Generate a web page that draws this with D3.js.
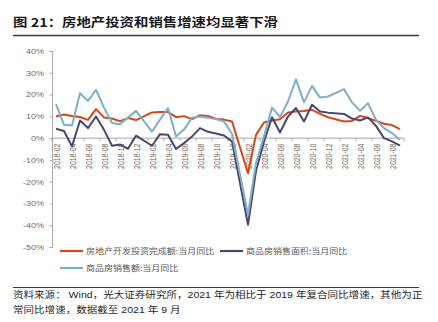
<!DOCTYPE html>
<html><head><meta charset="utf-8">
<script src="https://cdn.jsdelivr.net/npm/d3@7/dist/d3.min.js"></script>
<style>body{margin:0;background:#fff}svg{display:block}</style>
</head><body>
<svg id="c" width="438" height="322"></svg>
<script>
// ---------- data ----------
const months = [
  "2018-02","2018-03","2018-04","2018-05","2018-06","2018-07","2018-08","2018-09","2018-10","2018-11","2018-12",
  "2019-01","2019-02","2019-03","2019-04","2019-05","2019-06","2019-07","2019-08","2019-09","2019-10","2019-11","2019-12",
  "2020-01","2020-02","2020-03","2020-04","2020-05","2020-06","2020-07","2020-08","2020-09","2020-10","2020-11","2020-12",
  "2021-01","2021-02","2021-03","2021-04","2021-05","2021-06","2021-07","2021-08","2021-09"
];
// 房地产开发投资完成额:当月同比 (%)
const investment = [
  9.9,10.8,10.2,9.7,8.4,13.3,9.5,9.0,7.8,9.2,8.3,
  null,11.8,12.0,12.0,9.6,10.1,8.7,10.5,10.2,8.8,8.5,7.6,
  null,-16.1,1.5,7.2,8.1,8.7,11.8,12.2,12.4,13.0,11.1,9.6,
  null,7.6,7.9,10.2,9.2,7.9,6.6,6.0,4.1
];
// 商品房销售面积:当月同比 (%)
const salesArea = [
  4.3,3.3,-3.8,8.1,4.6,9.9,3.8,-3.5,-2.9,-4.9,1.1,
  null,-3.5,1.8,1.5,-5.0,-2.3,0.7,4.6,2.9,2.1,1.2,-1.5,
  null,-39.8,-15.0,-1.7,9.6,2.6,9.9,13.8,7.6,15.3,12.2,11.7,
  null,11.1,9.0,8.1,9.5,5.6,0.0,-1.5,-3.5
];
// 商品房销售额:当月同比 (%)
const salesAmount = [
  15.6,6.1,5.8,20.6,17.1,22.2,14.0,6.9,6.4,9.4,12.5,
  null,3.0,8.5,13.8,0.7,3.9,9.4,9.9,9.4,8.7,7.6,2.0,
  null,-35.2,-11.5,1.0,14.0,9.6,16.8,27.0,16.4,24.0,18.6,19.1,
  null,22.5,16.4,12.5,16.0,8.4,4.6,2.3,-0.8
];
const yTicks = [40,30,20,10,0,-10,-20,-30,-40,-50];
const seriesNames = ["房地产开发投资完成额:当月同比","商品房销售面积:当月同比","商品房销售额:当月同比"];
const seriesColors = ["#D5461C","#4A4671","#7DB0C8"];
const titleText = "图 21：房地产投资和销售增速均显著下滑";
const footer1 = "资料来源： Wind，光大证券研究所，2021 年为相比于 2019 年复合同比增速，其他为正";
const footer2 = "常同比增速，数据截至 2021 年 9 月";

// ---------- drawing ----------
const SX = 1.2;                 // horizontal stretch of the original picture
const X = v => v / SX;          // screen px -> local px
const svg = d3.select("#c");
svg.append("rect").attr("width",438).attr("height",322).attr("fill","#fff");
const g = svg.append("g").attr("transform",`scale(${SX},1)`);
const CJK = "'Noto Sans CJK SC','Noto Sans',sans-serif";
const LAT = "'Liberation Sans',Arial,'Noto Sans CJK SC',sans-serif";

// title
g.append("text").attr("x",X(13)).attr("y",27.5)
  .attr("font-family",CJK).attr("font-size",12).attr("font-weight","bold")
  .attr("fill","#1a1a1a").text(titleText);
g.append("line").attr("x1",X(13)).attr("x2",X(419)).attr("y1",35.5).attr("y2",35.5)
  .attr("stroke","#3a3a3a").attr("stroke-width",1.3).attr("vector-effect","non-scaling-stroke");

const x = d3.scaleBand().domain(months).range([X(52),X(404)]);
const y = d3.scaleLinear().domain([-50,40]).range([247,51]);
const bw = x.bandwidth();

// y axis
const yAxis = g.append("g").attr("transform",`translate(${X(52)},0)`)
  .call(d3.axisLeft(y).tickValues(yTicks).tickFormat(d=>d+"%").tickSize(2).tickPadding(4.6));
yAxis.select(".domain").attr("stroke","#a6a6a6").attr("vector-effect","non-scaling-stroke");
yAxis.selectAll(".tick line").attr("stroke","#a6a6a6").attr("vector-effect","non-scaling-stroke");
yAxis.selectAll(".tick text").attr("font-family",LAT).attr("font-size",7.5).attr("fill","#6b6b6b");

// x axis at 0
const y0 = y(0);
const labelMonths = months.filter((m,i)=>i%2===0);
const xAxis = g.append("g").attr("transform",`translate(0,${y0})`);
xAxis.append("line").attr("x1",X(52)).attr("x2",X(404)).attr("stroke","#a6a6a6")
  .attr("vector-effect","non-scaling-stroke");
const tickPos = labelMonths.map(m=>x(m)).concat([x.range()[1]]);
xAxis.selectAll("line.tk").data(tickPos).join("line").attr("class","tk")
  .attr("x1",d=>d).attr("x2",d=>d).attr("y1",0).attr("y2",3)
  .attr("stroke","#a6a6a6").attr("vector-effect","non-scaling-stroke");
xAxis.selectAll("text").data(labelMonths).join("text")
  .attr("transform",d=>`translate(${x(d)+bw/2+X(1.5)},5.5) rotate(-90)`)
  .attr("text-anchor","end").attr("dy","0.35em")
  .attr("font-family",LAT).attr("font-size",6.9).attr("fill","#6b6b6b")
  .text(d=>d);

// lines
const allSeries = [investment, salesArea, salesAmount];
const line = d3.line().x(d=>x(d.m)+bw/2).y(d=>y(d.v));
allSeries.forEach((s,k)=>{
  const pts = months.map((m,i)=>({m, v:s[i]})).filter(d=>d.v!==null);
  g.append("path").datum(pts).attr("d",line).attr("fill","none")
    .attr("stroke",seriesColors[k]).attr("stroke-width",2)
    .attr("stroke-linejoin","round").attr("vector-effect","non-scaling-stroke");
});

// legend
const legendPos = [{x:60,y:251},{x:220,y:251},{x:60,y:268}];
seriesNames.forEach((n,k)=>{
  const p = legendPos[k];
  g.append("line").attr("x1",X(p.x)).attr("x2",X(p.x+23)).attr("y1",p.y).attr("y2",p.y)
    .attr("stroke",seriesColors[k]).attr("stroke-width",2.2).attr("vector-effect","non-scaling-stroke");
  g.append("text").attr("x",X(p.x+26)).attr("y",p.y).attr("dy","0.36em")
    .attr("font-family",CJK).attr("font-size",7.5).attr("fill","#595959").text(n);
});

// footer
g.append("line").attr("x1",X(13)).attr("x2",X(419)).attr("y1",287.5).attr("y2",287.5)
  .attr("stroke","#3a3a3a").attr("stroke-width",1.2).attr("vector-effect","non-scaling-stroke");
[footer1,footer2].forEach((t,i)=>{
  g.append("text").attr("x",X(13)).attr("y",298.5+15*i)
    .attr("font-family",LAT).attr("font-size",8.8).attr("fill","#1f1f1f").text(t);
});
</script>
</body></html>
